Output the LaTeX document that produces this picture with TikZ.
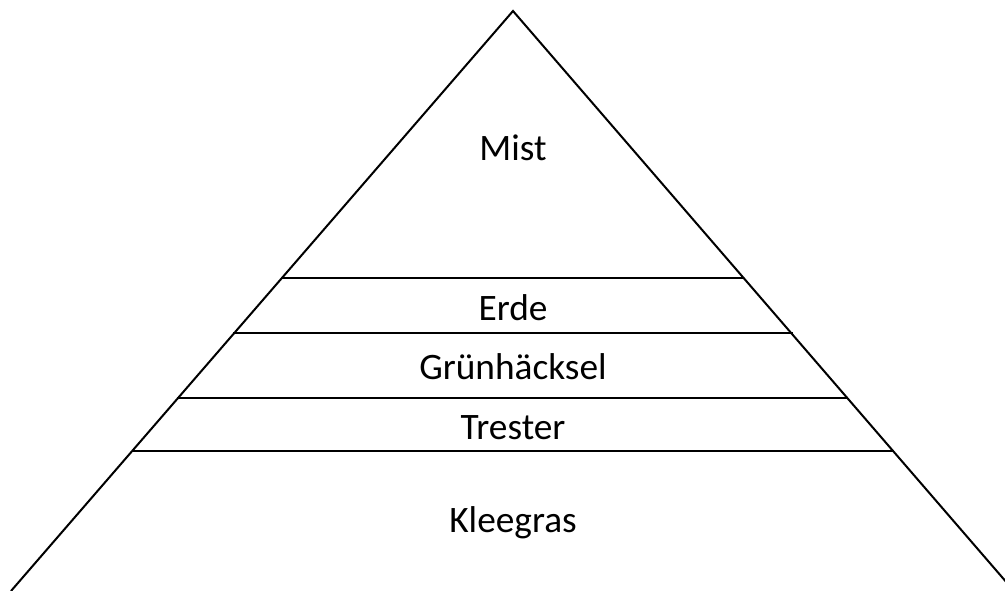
\documentclass[tikz,border=0pt]{standalone}
\usepackage{fontspec}
\setmainfont{Carlito}
\tikzset{
  layerline/.style={line width=1.5pt, black},
  label/.style={font=\fontsize{28}{32}\selectfont, inner sep=0pt, anchor=center}
}
\begin{document}
\begin{tikzpicture}[x=0.75pt,y=-0.75pt]
\useasboundingbox (0,0) rectangle (1005,591);
\clip (0,0) rectangle (1005,591);
\coordinate (apex) at (513,11);
\coordinate (bl) at (11,591);
\coordinate (br) at (1014,591);
\draw[layerline, line join=miter] (bl) -- (apex) -- (br);
\coordinate (a1) at (282,278); \coordinate (b1) at (743,278);
\coordinate (a2) at (233,333); \coordinate (b2) at (793,333);
\coordinate (a3) at (177,398); \coordinate (b3) at (848,398);
\coordinate (a4) at (132,451); \coordinate (b4) at (893,451);
\draw[layerline] (a1) -- (b1);
\draw[layerline] (a2) -- (b2);
\draw[layerline] (a3) -- (b3);
\draw[layerline] (a4) -- (b4);
\node[label] (mist) at (513,148) {Mist};
\node[label] (erde) at (513,308) {Erde};
\node[label] (gruen) at (513,367) {Grünhäcksel};
\node[label] (trester) at (513,428) {Trester};
\node[label] (klee) at (513,523) {Kleegras};
\end{tikzpicture}
\end{document}
